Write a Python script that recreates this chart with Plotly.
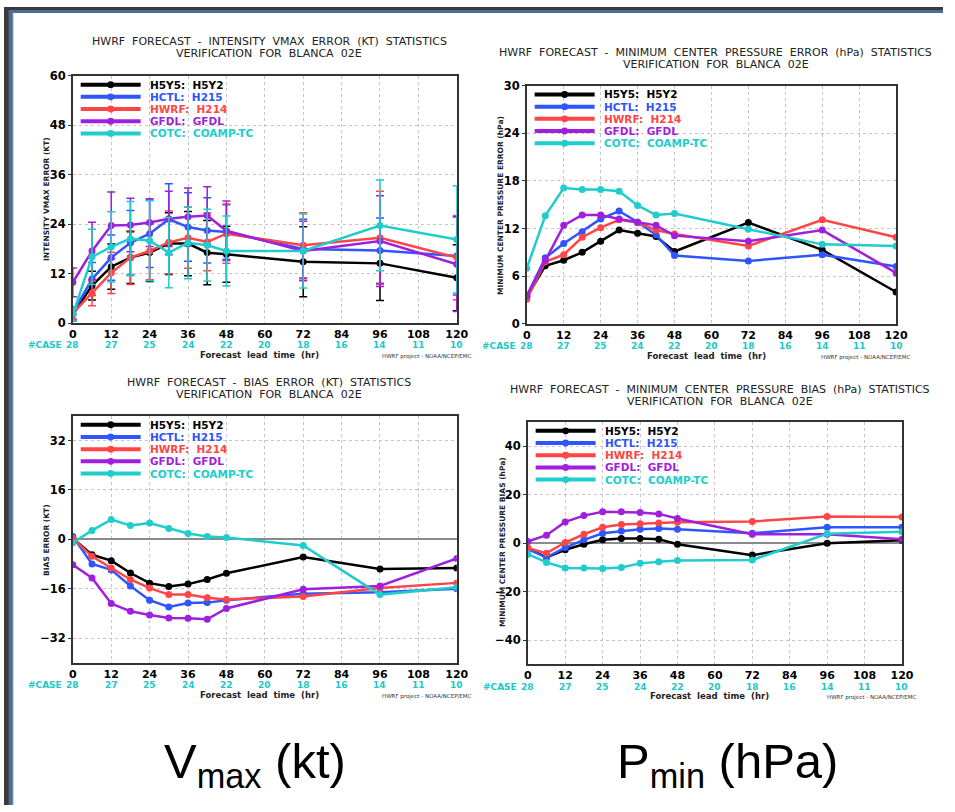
import plotly.graph_objects as go

W, H = 955, 812

# ---------------- data ----------------
LEAD = [0, 6, 12, 18, 24, 30, 36, 42, 48, 72, 96, 120]
XTICKS = [0, 12, 24, 36, 48, 60, 72, 84, 96, 108, 120]
CASES = [28, 27, 25, 24, 22, 20, 18, 16, 14, 11, 10]

MODELS = ["H5Y5:  H5Y2", "HCTL:  H215", "HWRF:  H214", "GFDL:  GFDL", "COTC:  COAMP-TC"]
COLORS = ["#000000", "#2f55ff", "#ff4545", "#a01fdc", "#20cccc"]

# Intensity VMAX error (kt)
vmax_err_h5y5 = [2.1, 9.1, 13.7, 15.9, 17.1, 19.3, 19.3, 17.1, 16.7, 14.9, 14.5, 11.0]
vmax_err_hctl = [2.5, 10.7, 15.9, 19.5, 21.7, 25.2, 23.3, 22.5, 22.1, 18.0, 17.6, 16.3]
vmax_err_hwrf = [2.4, 7.2, 12.2, 15.9, 17.5, 19.6, 20.7, 19.7, 21.7, 18.9, 20.7, 15.9]
vmax_err_gfdl = [9.9, 17.5, 23.7, 23.8, 24.4, 25.3, 25.8, 26.1, 22.4, 17.5, 19.9, 14.3]
vmax_err_cotc = [2.1, 16.1, 18.5, 20.5, 20.0, 17.1, 19.5, 18.9, 17.5, 17.5, 23.7, 20.3]

# half-width of the error bars (kt)
vmax_bar_h5y5 = [1.5, 3.5, 5.5, 6.3, 7.0, 7.5, 7.8, 7.8, 6.8, 8.5, 9.0, 8.0]
vmax_bar_hctl = [1.5, 4.0, 5.5, 7.8, 8.2, 8.6, 8.3, 7.9, 6.6, 7.2, 7.9, 9.5]
vmax_bar_hwrf = [1.5, 3.0, 5.0, 6.5, 7.0, 7.6, 7.4, 7.0, 7.2, 7.9, 11.3, 10.2]
vmax_bar_gfdl = [3.5, 7.0, 8.1, 6.5, 5.8, 6.7, 7.0, 7.0, 7.2, 7.2, 11.0, 11.5]
vmax_bar_cotc = [1.5, 6.7, 8.5, 9.0, 9.7, 8.5, 8.7, 8.7, 8.5, 9.0, 11.0, 13.0]

# Minimum center pressure error (hPa)
pmin_err_h5y5 = [3.4, 7.3, 8.0, 9.0, 10.4, 11.8, 11.4, 11.0, 9.1, 12.75, 9.3, 4.0]
pmin_err_hctl = [3.5, 8.3, 10.1, 11.6, 13.2, 14.2, 12.8, 11.2, 8.6, 7.9, 8.7, 7.2]
pmin_err_hwrf = [3.1, 7.8, 8.7, 10.9, 12.1, 13.1, 12.75, 11.8, 11.3, 9.8, 13.1, 10.9]
pmin_err_gfdl = [3.5, 8.0, 12.4, 13.7, 13.7, 13.2, 12.8, 12.4, 11.1, 10.4, 11.8, 6.4]
pmin_err_cotc = [7.0, 13.6, 17.1, 16.9, 16.9, 16.7, 14.9, 13.7, 13.9, 11.9, 10.0, 9.8]

# Intensity bias (kt)
vmax_bias_h5y5 = [0.3, -5.0, -6.9, -10.9, -14.2, -15.3, -14.5, -13.0, -11.0, -5.7, -9.6, -9.3]
vmax_bias_hctl = [0.9, -8.0, -9.9, -15.1, -19.7, -21.9, -20.6, -20.5, -19.7, -17.6, -17.1, -16.0]
vmax_bias_hwrf = [0.3, -5.5, -9.3, -13.0, -15.8, -17.9, -17.9, -18.9, -19.5, -18.5, -15.8, -14.1]
vmax_bias_gfdl = [-8.2, -12.5, -20.8, -23.3, -24.5, -25.5, -25.6, -25.9, -22.4, -16.2, -15.1, -6.2]
vmax_bias_cotc = [-1.1, 2.9, 6.4, 4.5, 5.3, 3.5, 1.9, 0.9, 0.6, -2.0, -17.9, -15.5]

# Minimum center pressure bias (hPa)
pmin_bias_h5y5 = [-2.0, -5.8, -2.7, -0.4, 1.4, 2.0, 2.0, 1.6, -0.4, -4.9, 0.0, 1.2]
pmin_bias_hctl = [-2.4, -5.8, -1.8, 1.4, 4.1, 5.0, 5.8, 6.1, 5.8, 4.1, 6.6, 6.6]
pmin_bias_hwrf = [-2.0, -4.1, 0.3, 3.7, 6.6, 7.7, 8.0, 8.3, 8.7, 9.0, 11.0, 10.8]
pmin_bias_gfdl = [0.7, 3.3, 8.8, 11.4, 13.0, 13.0, 12.7, 12.1, 10.2, 3.7, 3.7, 1.6]
pmin_bias_cotc = [-4.5, -7.9, -10.2, -10.2, -10.4, -10.0, -8.3, -7.6, -7.1, -6.9, 3.9, 4.7]

# ---------------- helpers ----------------
def fx(p):
    return p / W

def fy(p):
    return 1 - p / H

NB = "\u00a0\u00a0"

def spaced(s):
    return s.replace(" ", NB)

FONT = "DejaVu Sans"

panels = [
    dict(ax="", x0=70, x1=460.5, ytop=70, ybot=321.7, yr=[0, 60], yt=[0, 12, 24, 36, 48, 60],
         title1="HWRF FORECAST - INTENSITY VMAX ERROR (KT) STATISTICS", tcx=270, t1y=35,
         ytitle="INTENSITY VMAX ERROR (KT)", ytx=43, yty=195,
         series=[vmax_err_h5y5, vmax_err_hctl, vmax_err_hwrf, vmax_err_gfdl, vmax_err_cotc],
         bars=[vmax_bar_h5y5, vmax_bar_hctl, vmax_bar_hwrf, vmax_bar_gfdl, vmax_bar_cotc],
         zero=False),
    dict(ax="2", x0=531.7, x1=907.3, ytop=80, ybot=322.3, yr=[0, 30], yt=[0, 6, 12, 18, 24, 30],
         title1="HWRF FORECAST - MINIMUM CENTER PRESSURE ERROR (hPa) STATISTICS", tcx=724, t1y=46,
         ytitle="MINIMUM CENTER PRESSURE ERROR (hPa)", ytx=505, yty=202,
         series=[pmin_err_h5y5, pmin_err_hctl, pmin_err_hwrf, pmin_err_gfdl, pmin_err_cotc],
         bars=None, zero=False),
    dict(ax="3", x0=70, x1=460.5, ytop=416.1, ybot=667.3, yr=[-40, 40], yt=[-32, -16, 0, 16, 32],
         title1="HWRF FORECAST - BIAS ERROR (KT) STATISTICS", tcx=270, t1y=382,
         ytitle="BIAS ERROR (KT)", ytx=43, yty=542,
         series=[vmax_bias_h5y5, vmax_bias_hctl, vmax_bias_hwrf, vmax_bias_gfdl, vmax_bias_cotc],
         bars=None, zero=True),
    dict(ax="4", x0=532.7, x1=913.3, ytop=422.3, ybot=669, yr=[-50, 50], yt=[-40, -20, 0, 20, 40],
         title1="HWRF FORECAST - MINIMUM CENTER PRESSURE BIAS (hPa) STATISTICS", tcx=728, t1y=389,
         ytitle="MINIMUM CENTER PRESSURE BIAS (hPa)", ytx=507, yty=545,
         series=[pmin_bias_h5y5, pmin_bias_hctl, pmin_bias_hwrf, pmin_bias_gfdl, pmin_bias_cotc],
         bars=None, zero=True),
]

fig = go.Figure()
shapes = []
annotations = []

for p in panels:
    xa = "x" + p["ax"]
    ya = "y" + p["ax"]
    for i in range(5):
        err = None
        if p["bars"] is not None:
            err = dict(type="data", array=p["bars"][i], visible=True,
                       color=COLORS[i], thickness=1.5, width=4)
        fig.add_trace(go.Scatter(
            x=LEAD, y=p["series"][i], mode="lines+markers", xaxis=xa, yaxis=ya,
            line=dict(color=COLORS[i], width=2.5),
            marker=dict(color=COLORS[i], size=7, symbol="circle"),
            error_y=err, showlegend=False, name=MODELS[i], hoverinfo="x+y"))

    axis_common = dict(showline=True, linecolor="#333", linewidth=1.5, mirror=True,
                       tickcolor="#333",
                       showgrid=True, gridcolor="#c4c4c4", griddash="dot", gridwidth=1)
    fig.layout["xaxis" + p["ax"]] = dict(
        axis_common, domain=[fx(p["x0"]), fx(p["x1"])], range=[0, 120],
        tickvals=XTICKS, anchor=ya, zeroline=False, ticks="",
        tickfont=dict(family=FONT, size=11, color="black", weight="bold"))
    fig.layout["yaxis" + p["ax"]] = dict(
        axis_common, domain=[fy(p["ybot"]), fy(p["ytop"])], range=p["yr"],
        tickvals=p["yt"], anchor=xa, ticks="outside", ticklen=3,
        tickfont=dict(family=FONT, size=11.5, color="black", weight="bold"),
        zeroline=p["zero"], zerolinecolor="#8a8a8a", zerolinewidth=1.5)

    # titles
    annotations.append(dict(text=spaced(p["title1"]), x=fx(p["tcx"]), y=fy(p["t1y"]),
                            xref="paper", yref="paper", showarrow=False,
                            xanchor="center", yanchor="middle",
                            font=dict(family=FONT, size=11, color="#222")))
    annotations.append(dict(text=spaced("VERIFICATION FOR BLANCA 02E"), x=fx(p["tcx"]),
                            y=fy(p["t1y"] + 12.5), xref="paper", yref="paper", showarrow=False,
                            xanchor="center", yanchor="middle",
                            font=dict(family=FONT, size=11, color="#222")))
    # y title
    annotations.append(dict(text=p["ytitle"], x=fx(p["ytx"]), y=fy(p["yty"]),
                            xref="paper", yref="paper", showarrow=False, textangle=-90,
                            xanchor="center", yanchor="middle",
                            font=dict(family=FONT, size=7.5, color="#222", weight="bold")))
    # case counts
    case_y = p["ybot"] + 22.5
    for h, c in zip(XTICKS, CASES):
        annotations.append(dict(text=str(c), x=h, y=fy(case_y), xref=xa, yref="paper",
                                showarrow=False, xanchor="center", yanchor="middle",
                                font=dict(family=FONT, size=9, color="#20c8c8", weight="bold")))
    annotations.append(dict(text="#CASE", x=fx(p["x0"] - 9), y=fy(case_y), xref="paper",
                            yref="paper", showarrow=False, xanchor="right", yanchor="middle",
                            font=dict(family=FONT, size=9, color="#20c8c8", weight="bold")))
    # x title
    annotations.append(dict(text=spaced("Forecast lead time (hr)"),
                            x=fx((p["x0"] + p["x1"]) / 2 - 5), y=fy(p["ybot"] + 32.5),
                            xref="paper", yref="paper", showarrow=False,
                            xanchor="center", yanchor="middle",
                            font=dict(family=FONT, size=8.5, color="#222", weight="bold")))
    annotations.append(dict(text="HWRF project - NOAA/NCEP/EMC", x=fx(p["x1"] + 17),
                            y=fy(p["ybot"] + 34), xref="paper", yref="paper", showarrow=False,
                            xanchor="right", yanchor="middle",
                            font=dict(family=FONT, size=5.5, color="#333")))
    # legend (manual, compact as in the original)
    for i in range(5):
        ly = p["ytop"] + 9 + 12.4 * i
        shapes.append(dict(type="line", xref="paper", yref="paper",
                           x0=fx(p["x0"] + 8), x1=fx(p["x0"] + 69), y0=fy(ly), y1=fy(ly),
                           line=dict(color=COLORS[i], width=4)))
        shapes.append(dict(type="circle", xref="paper", yref="paper",
                           x0=fx(p["x0"] + 35), x1=fx(p["x0"] + 42),
                           y0=fy(ly - 3.5), y1=fy(ly + 3.5),
                           fillcolor=COLORS[i], line=dict(color=COLORS[i], width=0)))
        annotations.append(dict(text=MODELS[i].replace(" ", "\u00a0"), x=fx(p["x0"] + 76),
                                y=fy(ly), xref="paper", yref="paper", showarrow=False,
                                xanchor="left", yanchor="middle",
                                font=dict(family=FONT, size=10.5, color=COLORS[i], weight="bold")))

# big bottom labels
annotations.append(dict(text="V<sub>max</sub> (kt)", x=fx(255), y=fy(771), xref="paper",
                        yref="paper", showarrow=False, xanchor="center", yanchor="middle",
                        font=dict(family="Liberation Sans", size=49, color="black")))
annotations.append(dict(text="P<sub>min</sub> (hPa)", x=fx(736), y=fy(771), xref="paper",
                        yref="paper", showarrow=False, xanchor="center", yanchor="middle",
                        font=dict(family="Liberation Sans", size=49, color="black")))

# window frame (left and top edges)
shapes.append(dict(type="rect", xref="paper", yref="paper", x0=0, x1=fx(5), y0=0, y1=1,
                   fillcolor="#3a3a3e", line=dict(width=0), layer="above"))
shapes.append(dict(type="rect", xref="paper", yref="paper", x0=0, x1=1, y0=fy(3), y1=1,
                   fillcolor="#3a3a3e", line=dict(width=0), layer="above"))
shapes.append(dict(type="rect", xref="paper", yref="paper", x0=fx(5), x1=fx(9), y0=0, y1=fy(3),
                   fillcolor="#4a6d96", line=dict(width=0), layer="above"))
shapes.append(dict(type="rect", xref="paper", yref="paper", x0=fx(5), x1=1, y0=fy(6), y1=fy(3),
                   fillcolor="#4a6d96", line=dict(width=0), layer="above"))
shapes.append(dict(type="rect", xref="paper", yref="paper", x0=fx(9), x1=fx(10), y0=0, y1=fy(6),
                   fillcolor="#b9cde3", line=dict(width=0), layer="above"))

fig.update_layout(width=W, height=H, margin=dict(l=0, r=0, t=0, b=0),
                  paper_bgcolor="white", plot_bgcolor="white",
                  shapes=shapes, annotations=annotations, showlegend=False,
                  font=dict(family=FONT))

fig.write_html("out.html",
               post_script="document.body.style.margin='0px';"
                           "document.body.style.overflow='hidden';")
